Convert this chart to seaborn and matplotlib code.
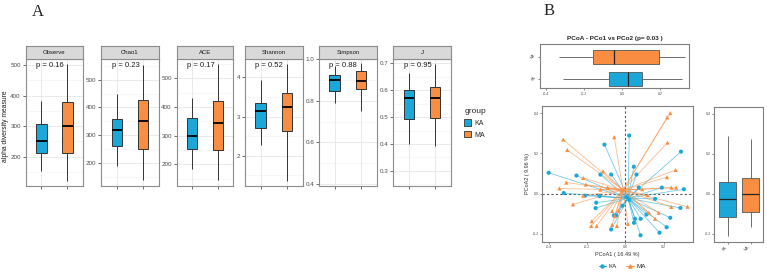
import numpy as np
import pandas as pd
import matplotlib
matplotlib.use("Agg")
import matplotlib.pyplot as plt
import matplotlib.transforms as mtrans
import seaborn as sns
from matplotlib.lines import Line2D
from matplotlib.patches import Patch

# ---------------- data ----------------
groups = ["KA", "MA"]
metrics = ["Observe", "Chao1", "ACE", "Shannon", "Simpson", "J"]
p_labels = ["p = 0.16", "p = 0.23", "p = 0.17", "p = 0.52", "p = 0.88", "p = 0.95"]

# five-number summaries (min, q1, median, q3, max)
observe_ka = [154, 213, 252, 306, 383]
observe_ma = [121, 213, 302, 378, 502]
chao1_ka = [187, 261, 317, 357, 449]
chao1_ma = [136, 248, 352, 426, 555]
ace_ka = [184, 252, 298, 360, 432]
ace_ma = [144, 249, 345, 422, 548]
shannon_ka = [2.27, 2.71, 3.14, 3.34, 3.94]
shannon_ma = [1.36, 2.63, 3.25, 3.59, 4.34]
simpson_ka = [0.789, 0.848, 0.901, 0.926, 0.970]
simpson_ma = [0.753, 0.856, 0.894, 0.942, 0.980]
j_ka = [0.399, 0.494, 0.570, 0.600, 0.664]
j_ma = [0.391, 0.498, 0.570, 0.613, 0.696]

y_ticks = [[200, 300, 400, 500], [200, 300, 400, 500], [200, 300, 400, 500],
           [2, 3, 4], [0.4, 0.6, 0.8, 1.0], [0.3, 0.4, 0.5, 0.6, 0.7]]
y_tick_labels = [["200", "300", "400", "500"], ["200", "300", "400", "500"],
                 ["200", "300", "400", "500"], ["2", "3", "4"],
                 ["0.4", "0.6", "0.8", "1.0"], ["0.3", "0.4", "0.5", "0.6", "0.7"]]
y_limits = [(104, 519), (116, 574), (124, 566), (1.23, 4.46), (0.389, 1.0), (0.244, 0.715)]

# PCoA box summaries
pc1_ka = [-0.310, -0.068, 0.032, 0.102, 0.313]
pc1_ma = [-0.335, -0.156, -0.044, 0.195, 0.332]
pc2_ka = [-0.209, -0.116, -0.026, 0.058, 0.287]
pc2_ma = [-0.167, -0.091, 0.000, 0.077, 0.276]

# PCoA sample scores
ka_x = [-0.400, -0.255, -0.321, -0.210, -0.134, -0.152, -0.155, -0.109, -0.130, -0.074,
        0.020, 0.044, 0.058, 0.290, 0.190, 0.305, 0.070, 0.155, 0.287, 0.234,
        0.110, 0.080, 0.050, 0.045, 0.215, 0.178, 0.079, -0.074, -0.048, -0.060,
        0.005, 0.020, -0.015]
ka_y = [0.104, 0.090, 0.003, -0.010, -0.012, -0.045, -0.072, 0.244, 0.095, 0.095,
        0.289, 0.134, 0.095, 0.209, 0.030, 0.022, 0.030, -0.026, -0.071, -0.120,
        -0.104, -0.125, -0.125, -0.145, -0.167, -0.194, -0.207, -0.178, -0.108, -0.108,
        -0.017, -0.030, -0.060]
ma_x = [-0.324, -0.303, -0.058, 0.234, 0.218, 0.220, 0.262, 0.217, 0.240, 0.265,
        0.324, 0.240, -0.116, -0.220, -0.308, -0.344, -0.206, -0.220, -0.273, -0.092,
        0.088, 0.116, 0.173, 0.123, 0.155, 0.013, -0.069, -0.044, -0.150, -0.178,
        -0.175, -0.069, -0.035, -0.056, -0.016, -0.130]
ma_y = [0.269, 0.217, 0.281, 0.401, 0.380, 0.254, 0.118, 0.082, 0.030, 0.030,
        -0.065, -0.066, 0.111, 0.078, 0.055, 0.026, 0.045, -0.010, -0.053, 0.030,
        0.022, -0.008, -0.095, -0.095, -0.125, -0.150, -0.155, -0.161, -0.161, -0.161,
        -0.137, -0.086, -0.085, -0.111, 0.018, 0.020]
ka_centroid = [0.014, -0.023]
ma_centroid = [-0.012, 0.018]

# ---------------- style ----------------
sns.set_theme(style="white")
plt.rcParams["font.family"] = ["Liberation Sans", "DejaVu Sans"]
blue = "#1BA8D8"
orange = "#F98E43"
palette = {"KA": blue, "MA": orange}
edge = "#333333"
tick_c = "#4D4D4D"

W, H = 767, 272
fig = plt.figure(figsize=(W / 100, H / 100), dpi=100)


def px_axes(x0, y0, x1, y1):
    return fig.add_axes([x0 / W, 1 - y1 / H, (x1 - x0) / W, (y1 - y0) / H])


summaries = [(observe_ka, observe_ma), (chao1_ka, chao1_ma), (ace_ka, ace_ma),
             (shannon_ka, shannon_ma), (simpson_ka, simpson_ma), (j_ka, j_ma)]
panel_x = [(25.7, 83.0), (101.0, 159.0), (176.7, 233.3), (245.0, 302.7),
           (319.0, 376.7), (393.3, 450.7)]
ptop, pbot, stop = 59.3, 186.0, 46.0

for i, m in enumerate(metrics):
    x0, x1 = panel_x[i]
    ka, ma = summaries[i]
    df = pd.DataFrame({"group": ["KA"] * len(ka) + ["MA"] * len(ma),
                       "value": list(ka) + list(ma)})
    ax = px_axes(x0, ptop, x1, pbot)
    ax.set_facecolor("white")
    ymin, ymax = y_limits[i]
    minors = [(a + b) / 2 for a, b in zip(y_ticks[i][:-1], y_ticks[i][1:])]
    step = y_ticks[i][1] - y_ticks[i][0]
    minors = [y_ticks[i][0] - step / 2] + minors + [y_ticks[i][-1] + step / 2]
    for mv in minors:
        ax.axhline(mv, color="#F2F2F2", lw=0.4, zorder=0)
    for tv in y_ticks[i]:
        ax.axhline(tv, color="#E6E6E6", lw=0.6, zorder=0)
    for xv in [0, 1]:
        ax.axvline(xv, color="#E6E6E6", lw=0.6, zorder=0)
    sns.boxplot(data=df, x="group", y="value", hue="group", order=groups,
                hue_order=groups, palette=palette, saturation=1, width=0.4,
                whis=(0, 100), showcaps=False, linewidth=0.7, linecolor=edge,
                medianprops={"color": "black", "linewidth": 1.3},
                legend=False, ax=ax)
    ax.set_xlim(-0.6, 1.6)
    ax.set_ylim(ymin, ymax)
    ax.set_yticks(y_ticks[i])
    ax.set_yticklabels(y_tick_labels[i])
    ax.set_xticks([0, 1])
    ax.set_xticklabels(["", ""])
    ax.set_xlabel("")
    ax.set_ylabel("")
    ax.tick_params(axis="both", length=2, width=0.5, color=edge, labelsize=4.5,
                   labelcolor=tick_c, pad=1.5, bottom=True, left=True)
    for s in ax.spines.values():
        s.set_color("#8C8C8C")
        s.set_linewidth(0.8)
    ax.text(-0.2, 0.955, p_labels[i],
            transform=mtrans.blended_transform_factory(ax.transData, ax.transAxes),
            ha="left", va="center", fontsize=5.5, color="#1A1A1A")
    # strip
    sax = px_axes(x0, stop, x1, ptop)
    sax.set_facecolor("#D9D9D9")
    sax.set_xticks([])
    sax.set_yticks([])
    for s in sax.spines.values():
        s.set_color("#8C8C8C")
        s.set_linewidth(0.8)
    sax.text(0.5, 0.5, m, ha="center", va="center", fontsize=4.3, color="#1A1A1A",
             transform=sax.transAxes)

fig.text(5.7 / W, 1 - 126 / H, "alpha diversity measure", rotation=90,
         ha="center", va="center", fontsize=4.9, color="#1A1A1A")

leg = fig.legend(handles=[Patch(facecolor=blue, edgecolor=edge, linewidth=0.6),
                          Patch(facecolor=orange, edgecolor=edge, linewidth=0.6)],
                 labels=["KA", "MA"], title="group", loc="upper left",
                 bbox_to_anchor=(458 / W, 1 - 102 / H), frameon=False,
                 fontsize=5, title_fontsize=6, handlelength=1.0, handleheight=1.0,
                 labelspacing=0.6, handletextpad=0.5)
leg._legend_box.align = "left"

fig.text(38 / W, 1 - 12 / H, "A", fontsize=12, family="Liberation Serif",
         ha="center", va="center")
fig.text(549 / W, 1 - 11 / H, "B", fontsize=12, family="Liberation Serif",
         ha="center", va="center")

xlim_pc = (-0.433, 0.351)
ylim_pc = (-0.239, 0.436)


def style_pc(ax):
    ax.set_facecolor("white")
    for s in ax.spines.values():
        s.set_color("#7F7F7F")
        s.set_linewidth(0.8)
    ax.tick_params(axis="both", length=1.5, width=0.4, color=edge, labelsize=2.6,
                   labelcolor=tick_c, pad=1, bottom=True, left=True)
    ax.set_xlabel("")
    ax.set_ylabel("")


# top box (PCo1)
tax = px_axes(540, 44.3, 689, 88.3)
df1 = pd.DataFrame({"group": ["KA"] * 5 + ["MA"] * 5, "value": pc1_ka + pc1_ma})
sns.boxplot(data=df1, x="value", y="group", hue="group", order=["MA", "KA"],
            hue_order=groups, palette=palette, saturation=1, orient="h", width=0.64,
            whis=(0, 100), showcaps=False, linewidth=0.6, linecolor="#555555",
            medianprops={"color": "#222222", "linewidth": 0.9}, legend=False, ax=tax)
tax.set_xlim(*xlim_pc)
tax.set_ylim(1.42, -0.56)
tax.set_xticks([-0.4, -0.2, 0.0, 0.2])
tax.set_xticklabels(["-0.4", "-0.2", "0.0", "0.2"])
style_pc(tax)
plt.setp(tax.get_yticklabels(), rotation=45, ha="right", va="center")
tax.set_title("PCoA - PCo1 vs PCo2 (p= 0.03 )", fontsize=4.6, fontweight="bold",
              pad=3)

# scatter
sax = px_axes(542.3, 106, 692.7, 241.7)
sax.axhline(0, color="#555555", lw=0.8, ls=(0, (2, 2)), zorder=1)
sax.axvline(0, color="#555555", lw=0.8, ls=(0, (2, 2)), zorder=1)
for xs, ys, cen, col in [(ka_x, ka_y, ka_centroid, blue), (ma_x, ma_y, ma_centroid, orange)]:
    for xv, yv in zip(xs, ys):
        sax.plot([cen[0], xv], [cen[1], yv], color=col, lw=0.6, alpha=0.6, zorder=2)
pts = pd.DataFrame({"PC1": ka_x + ma_x, "PC2": ka_y + ma_y,
                    "group": ["KA"] * len(ka_x) + ["MA"] * len(ma_x)})
sns.scatterplot(data=pts, x="PC1", y="PC2", hue="group", style="group",
                markers={"KA": "o", "MA": "^"}, palette=palette, s=9,
                linewidth=0, legend=False, zorder=3, ax=sax)
sax.set_xlim(*xlim_pc)
sax.set_ylim(*ylim_pc)
sax.set_xticks([-0.4, -0.2, 0.0, 0.2])
sax.set_xticklabels(["-0.4", "-0.2", "0.0", "0.2"])
sax.set_yticks([-0.2, 0.0, 0.2, 0.4])
sax.set_yticklabels(["-0.2", "0.0", "0.2", "0.4"])
style_pc(sax)
sax.set_xlabel("PCoA1 ( 16.49 %)", fontsize=4, color="#333333", labelpad=2)
sax.set_ylabel("PCoA2 ( 9.96 %)", fontsize=4, color="#333333", labelpad=2)

fig.legend(handles=[Line2D([0], [0], color=blue, marker="o", markersize=2.2, lw=0.7),
                    Line2D([0], [0], color=orange, marker="^", markersize=2.4, lw=0.7)],
           labels=["KA", "MA"], loc="center", ncol=2,
           bbox_to_anchor=(622 / W, 1 - 266.5 / H), frameon=False, fontsize=4.5,
           handlelength=1.2, handletextpad=0.4, columnspacing=1.5)

# right box (PCo2)
rax = px_axes(714.3, 106.7, 763.3, 241.7)
df2 = pd.DataFrame({"group": ["KA"] * 5 + ["MA"] * 5, "value": pc2_ka + pc2_ma})
sns.boxplot(data=df2, x="group", y="value", hue="group", order=groups,
            hue_order=groups, palette=palette, saturation=1, width=0.72, whis=(0, 100),
            showcaps=False, linewidth=0.6, linecolor="#555555",
            medianprops={"color": "#222222", "linewidth": 0.9}, legend=False, ax=rax)
rax.set_xlim(-0.58, 1.55)
rax.set_ylim(*ylim_pc)
rax.set_yticks([-0.2, 0.0, 0.2, 0.4])
rax.set_yticklabels(["-0.2", "0.0", "0.2", "0.4"])
style_pc(rax)
plt.setp(rax.get_xticklabels(), rotation=45, ha="right")

fig.savefig("out.png", dpi=100)
